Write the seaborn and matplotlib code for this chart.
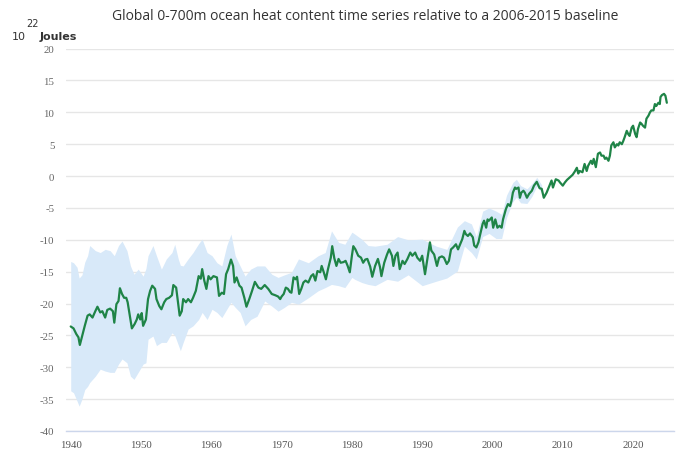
import matplotlib
matplotlib.use("Agg")
import matplotlib.pyplot as plt
import seaborn as sns
import pandas as pd
import numpy as np

# ---- data ----
line_years = [
    1940.0, 1940.4, 1940.8, 1941.1, 1941.3, 1941.7, 1942.0, 1942.4, 1942.7, 1943.1,
    1943.5, 1943.8, 1944.2, 1944.5, 1944.9, 1945.2, 1945.6, 1946.0, 1946.2, 1946.5,
    1946.8, 1947.0, 1947.3, 1947.6, 1947.9, 1948.1, 1948.4, 1948.7, 1949.1, 1949.4,
    1949.6, 1949.9, 1950.1, 1950.3, 1950.7, 1951.0, 1951.3, 1951.6, 1952.0, 1952.2,
    1952.6, 1952.9, 1953.3, 1953.6, 1954.0, 1954.4, 1954.6, 1955.0, 1955.2, 1955.5,
    1955.8, 1956.0, 1956.4, 1956.7, 1957.1, 1957.4, 1957.8, 1958.2, 1958.5, 1958.7,
    1959.0, 1959.3, 1959.6, 1959.9, 1960.3, 1960.8, 1961.1, 1961.5, 1961.8, 1962.1,
    1962.4, 1962.8, 1963.1, 1963.3, 1963.6, 1964.0, 1964.3, 1964.7, 1965.0, 1965.4,
    1965.8, 1966.2, 1966.7, 1967.1, 1967.6, 1968.1, 1968.6, 1969.1, 1969.5, 1969.8,
    1970.0, 1970.3, 1970.6, 1970.9, 1971.2, 1971.4, 1971.7, 1972.0, 1972.2, 1972.5,
    1972.8, 1973.1, 1973.4, 1973.8, 1974.2, 1974.5, 1974.8, 1975.1, 1975.5, 1975.7,
    1976.0, 1976.3, 1976.6, 1977.0, 1977.2, 1977.5, 1977.8, 1978.1, 1978.4, 1978.8,
    1979.1, 1979.4, 1979.7, 1980.0, 1980.2, 1980.5, 1980.9, 1981.3, 1981.6, 1981.9,
    1982.2, 1982.6, 1982.9, 1983.3, 1983.7, 1984.0, 1984.2, 1984.6, 1985.0, 1985.3,
    1985.7, 1985.9, 1986.2, 1986.5, 1986.8, 1987.2, 1987.5, 1987.9, 1988.3, 1988.6,
    1989.0, 1989.3, 1989.7, 1990.0, 1990.4, 1990.8, 1991.1, 1991.3, 1991.7, 1992.1,
    1992.4, 1992.8, 1993.1, 1993.5, 1993.8, 1994.1, 1994.4, 1994.8, 1995.1, 1995.4,
    1995.7, 1996.0, 1996.2, 1996.5, 1996.8, 1997.2, 1997.4, 1997.7, 1998.0, 1998.2,
    1998.6, 1998.8, 1999.1, 1999.3, 1999.5, 1999.9, 2000.1, 2000.4, 2000.7, 2001.0,
    2001.3, 2001.5, 2001.9, 2002.2, 2002.5, 2002.7, 2002.9, 2003.2, 2003.4, 2003.7,
    2003.9, 2004.1, 2004.4, 2004.6, 2004.9, 2005.2, 2005.6, 2005.9, 2006.3, 2006.7,
    2007.0, 2007.3, 2007.7, 2008.1, 2008.4, 2008.6, 2009.0, 2009.4, 2009.6, 2010.0,
    2010.3, 2010.6, 2011.0, 2011.4, 2011.7, 2012.0, 2012.2, 2012.4, 2012.8, 2013.1,
    2013.4, 2013.6, 2014.0, 2014.2, 2014.4, 2014.7, 2015.0, 2015.3, 2015.5, 2015.8,
    2016.0, 2016.2, 2016.5, 2016.7, 2016.9, 2017.2, 2017.4, 2017.7, 2017.9, 2018.1,
    2018.4, 2018.6, 2018.8, 2019.1, 2019.3, 2019.5, 2019.8, 2020.0, 2020.3, 2020.5,
    2020.7, 2021.0, 2021.2, 2021.4, 2021.7, 2021.9, 2022.2, 2022.4, 2022.6, 2022.9,
    2023.1, 2023.3, 2023.6, 2023.8, 2023.9, 2024.1, 2024.4, 2024.6, 2024.8,
]
heat_content = [
    -23.6, -23.9, -24.8, -25.3, -26.5, -24.8, -23.5, -21.9, -21.7, -22.2,
    -21.2, -20.5, -21.4, -21.2, -22.2, -21.0, -20.8, -21.2, -23.0, -20.1,
    -19.6, -17.6, -18.5, -19.1, -19.1, -19.8, -21.9, -23.9, -23.2, -22.5,
    -21.7, -22.5, -21.5, -23.5, -22.5, -19.3, -18.0, -17.2, -17.7, -19.3,
    -20.4, -20.9, -19.8, -19.3, -19.1, -18.7, -17.1, -17.5, -19.3, -21.9,
    -21.2, -19.3, -19.8, -19.3, -19.8, -19.1, -18.0, -15.7, -16.1, -14.6,
    -16.4, -17.7, -15.7, -16.2, -15.7, -15.9, -18.8, -18.3, -18.5, -15.4,
    -14.6, -13.1, -14.1, -16.7, -15.9, -17.2, -17.5, -19.1, -20.5, -19.3,
    -18.0, -16.6, -17.5, -17.7, -17.1, -17.7, -18.5, -18.7, -18.9, -19.3,
    -18.9, -18.5, -17.5, -17.7, -18.2, -18.3, -15.9, -16.2, -15.8, -18.5,
    -17.7, -16.7, -16.4, -16.7, -15.7, -15.4, -16.4, -14.9, -15.1, -14.1,
    -15.1, -16.2, -14.6, -12.8, -11.0, -12.9, -14.1, -13.0, -13.6, -13.5,
    -13.3, -14.1, -15.1, -12.5, -11.0, -11.5, -12.5, -12.8, -13.6, -13.1,
    -13.0, -14.2, -15.8, -14.1, -13.0, -14.3, -15.7, -13.6, -12.3, -11.5,
    -12.5, -14.1, -12.5, -12.0, -14.6, -13.3, -13.8, -13.0, -12.0, -12.5,
    -12.0, -12.8, -13.3, -12.5, -15.4, -12.6, -10.4, -11.7, -12.3, -14.1,
    -12.8, -12.6, -12.8, -13.8, -13.3, -11.5, -11.2, -10.7, -11.5, -10.7,
    -9.9, -8.6, -9.1, -9.4, -9.0, -9.6, -10.9, -11.2, -10.4, -9.4,
    -7.5, -7.0, -8.1, -6.8, -7.0, -6.5, -8.1, -6.8, -8.1, -7.8,
    -8.1, -6.8, -5.2, -4.4, -4.7, -3.9, -2.6, -1.8, -2.0, -1.8,
    -3.4, -2.6, -2.3, -2.6, -3.4, -2.8, -2.3, -1.5, -0.9, -1.9,
    -2.0, -3.4, -2.6, -1.5, -0.7, -1.8, -0.5, -0.7, -1.0, -1.5,
    -1.0, -0.6, -0.2, 0.2, 0.7, 1.3, 0.4, 0.8, 0.6, 1.9,
    0.8, 1.6, 2.4, 1.9, 2.7, 1.4, 3.5, 3.7, 3.2, 3.2,
    2.7, 2.9, 2.4, 3.2, 4.8, 5.3, 4.5, 5.0, 4.8, 5.3,
    5.0, 5.5, 6.1, 7.1, 6.6, 6.3, 7.6, 7.9, 6.6, 6.1,
    7.4, 8.4, 8.2, 7.9, 7.6, 9.0, 9.5, 10.0, 10.3, 10.3,
    11.3, 11.0, 11.5, 11.3, 12.4, 12.7, 12.9, 12.6, 11.5,
]

band_years = [
    1940.0, 1940.4, 1940.9, 1941.2, 1941.6, 1942.0, 1942.4, 1942.7, 1943.5, 1944.2,
    1944.9, 1945.6, 1946.2, 1946.8, 1947.3, 1948.0, 1948.5, 1949.0, 1949.6, 1950.3,
    1950.7, 1951.0, 1951.7, 1952.2, 1952.9, 1953.6, 1954.4, 1954.8, 1955.3, 1955.6,
    1956.0, 1956.7, 1957.4, 1958.2, 1958.7, 1959.4, 1960.1, 1960.8, 1961.5, 1962.2,
    1962.8, 1963.4, 1964.1, 1964.8, 1965.6, 1966.5, 1967.6, 1968.6, 1969.5, 1970.4,
    1971.4, 1972.4, 1973.8, 1975.2, 1976.2, 1977.1, 1978.1, 1979.0, 1980.0, 1980.4,
    1981.4, 1982.3, 1983.3, 1985.0, 1986.5, 1988.0, 1990.0, 1992.0, 1993.5, 1995.0,
    1996.0, 1997.0, 1997.7, 1998.6, 1999.5, 2000.5, 2001.3, 2002.0, 2002.9, 2003.4,
    2004.0, 2004.9, 2005.6, 2006.3, 2007.0,
]
band_low = [
    -33.7, -34.0, -35.3, -36.1, -35.0, -33.5, -33.0, -32.4, -31.4, -30.3,
    -30.6, -30.8, -30.8, -29.5, -28.7, -29.3, -31.4, -31.9, -30.8, -29.5,
    -29.3, -25.6, -25.1, -26.6, -26.1, -26.1, -24.6, -25.0, -26.5, -27.4,
    -26.1, -24.0, -23.5, -22.5, -21.4, -22.5, -20.9, -21.4, -22.2, -20.9,
    -19.8, -20.6, -21.4, -23.5, -22.5, -22.0, -19.6, -20.4, -21.2, -20.6,
    -19.8, -20.1, -19.1, -18.0, -17.5, -17.0, -17.2, -17.5, -15.9, -16.2,
    -16.7, -17.0, -17.2, -16.2, -16.5, -15.5, -17.2, -16.5, -16.0, -14.9,
    -11.0, -12.0, -13.0, -9.5, -9.0, -9.8, -9.8, -6.5, -4.0, -3.3,
    -4.2, -4.3, -3.2, -1.6, -2.6,
]
band_high = [
    -13.4, -13.6, -14.3, -16.0, -15.5, -13.5, -12.5, -10.9, -11.7, -12.0,
    -11.5, -11.7, -12.5, -10.9, -10.2, -11.7, -14.1, -15.4, -14.6, -15.7,
    -14.5, -12.5, -10.9, -12.5, -14.6, -13.0, -12.0, -10.7, -13.0, -14.0,
    -14.1, -13.0, -12.0, -10.6, -9.9, -12.0, -12.5, -13.6, -14.1, -10.9,
    -9.1, -12.5, -14.1, -15.7, -14.6, -14.1, -14.1, -15.4, -15.9, -15.5,
    -15.1, -13.0, -13.6, -12.5, -12.0, -8.6, -10.4, -10.7, -8.8, -9.1,
    -9.9, -10.9, -11.0, -10.7, -9.5, -10.0, -9.9, -11.0, -11.5, -8.0,
    -7.0, -7.5, -9.5, -5.5, -5.0, -5.5, -6.0, -3.0, -1.0, -0.5,
    -1.5, -2.0, -1.2, -0.2, -1.4,
]

x_ticks = [1940, 1950, 1960, 1970, 1980, 1990, 2000, 2010, 2020]
y_ticks = [20, 15, 10, 5, 0, -5, -10, -15, -20, -25, -30, -35, -40]

title = "Global 0-700m ocean heat content time series relative to a 2006-2015 baseline"

df = pd.DataFrame({"year": line_years, "ohc": heat_content})

# ---- style ----
sns.set_theme(style="white")
plt.rcParams["font.family"] = ["DejaVu Sans"]
plt.rcParams["axes.unicode_minus"] = False

fig = plt.figure(figsize=(6.8, 4.6), dpi=100)
ax = fig.add_axes([66 / 680, 1 - 432 / 460, (674 - 66) / 680, (432 - 49.6) / 460])

ax.fill_between(band_years, band_low, band_high, color="#d8e9f9", linewidth=0, zorder=1)
sns.lineplot(data=df, x="year", y="ohc", ax=ax, color="#1f8447", linewidth=1.6, zorder=3)

ax.set_xlim(1939.33, 2025.82)
ax.set_ylim(-40, 20)
ax.set_xticks(x_ticks)
ax.set_yticks(y_ticks)
ax.set_xticklabels([str(t) for t in x_ticks])
ax.set_yticklabels([str(t) for t in y_ticks])

ax.yaxis.grid(True, color="#e6e6e6", linewidth=1.0, zorder=0)
ax.xaxis.grid(False)
ax.set_axisbelow(True)
for s in ["top", "right", "left"]:
    ax.spines[s].set_visible(False)
ax.spines["bottom"].set_color("#ccd6eb")
ax.spines["bottom"].set_linewidth(1.0)

ax.tick_params(axis="x", colors="#ccd6eb", length=4, width=1, direction="out", pad=2.5,
               labelcolor="#555555", labelsize=7.8)
ax.tick_params(axis="y", length=0, pad=8.5, labelcolor="#666666", labelsize=7.8)
for lab in ax.get_xticklabels() + ax.get_yticklabels():
    lab.set_fontfamily("Liberation Serif")

ax.set_xlabel("")
ax.set_ylabel("")

fig.text(365 / 680, 1 - 17 / 460, title, ha="center", va="center",
         fontsize=10, color="#333333", family="Open Sans")
fig.text(12 / 680, 1 - 37 / 460, "10", ha="left", va="center", fontsize=8,
         color="#333333", family="DejaVu Sans")
fig.text(26 / 680, 1 - 24 / 460, "22", ha="left", va="center", fontsize=7,
         color="#333333", family="DejaVu Sans")
fig.text(40 / 680, 1 - 37 / 460, "Joules", ha="left", va="center", fontsize=8,
         color="#333333", family="DejaVu Sans", fontweight="semibold")

fig.savefig("out.png", dpi=100, facecolor="white")
